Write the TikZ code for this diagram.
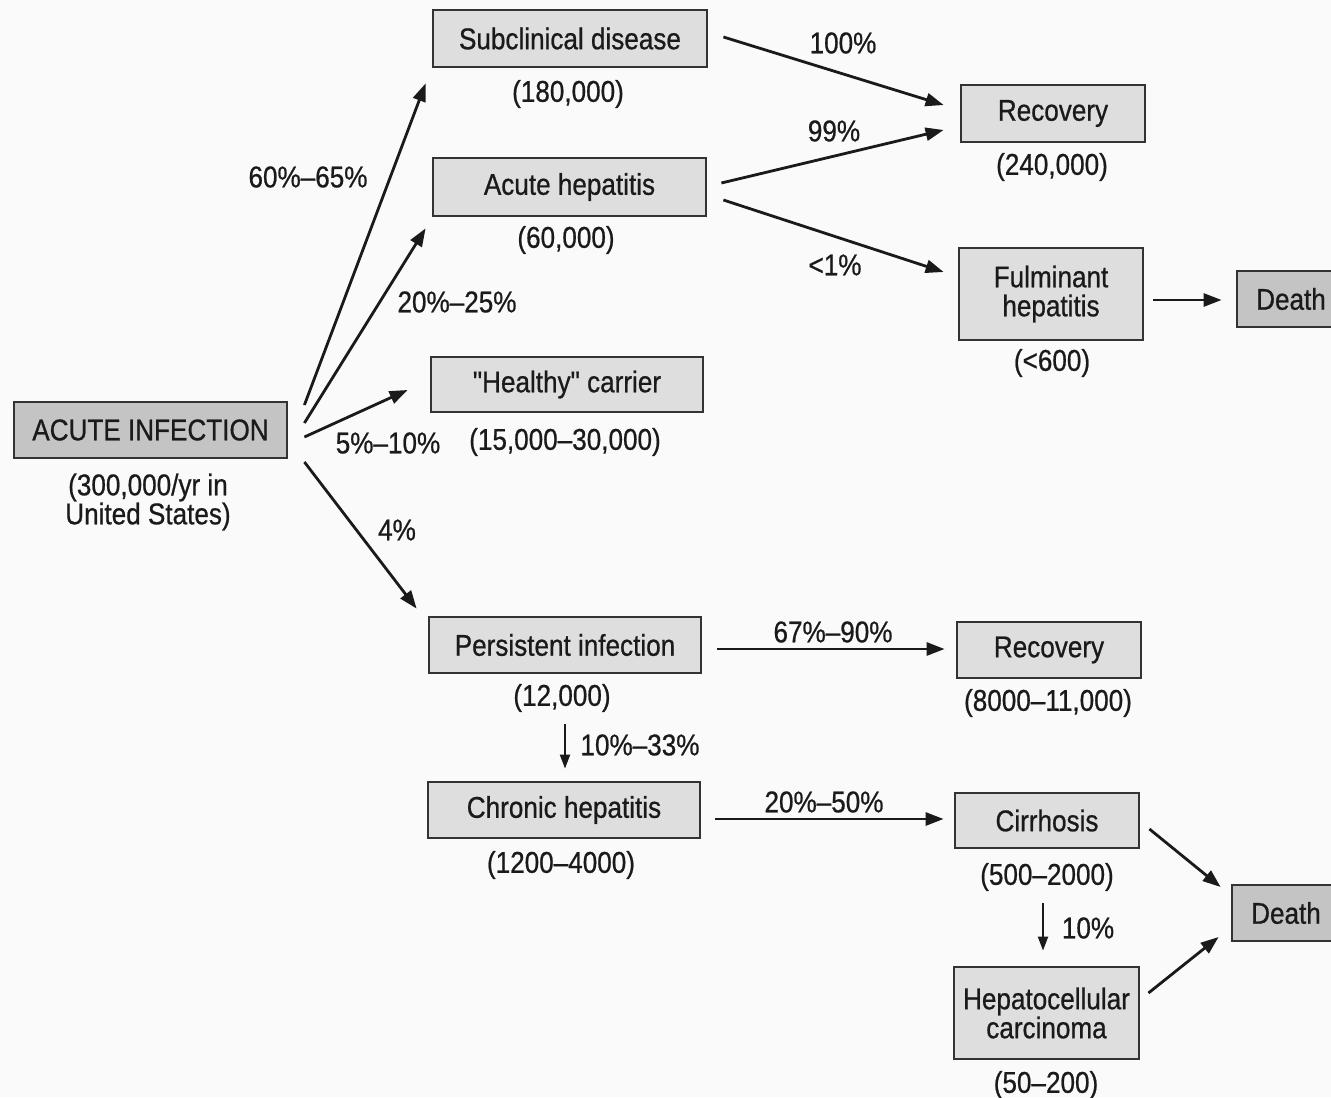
\documentclass[tikz,border=0pt]{standalone}
\usepackage{fontspec}
\setmainfont{Liberation Sans}[FakeStretch=0.87,FakeBold=0.7]
\newfontfamily\plainq{Liberation Sans}[FakeStretch=0.87,FakeBold=0.7]
\usetikzlibrary{arrows.meta}
\definecolor{boxfill}{HTML}{DEDEDE}
\definecolor{darkfill}{HTML}{C4C4C4}
\definecolor{edge}{HTML}{333333}
\definecolor{ink}{HTML}{1A1A1A}
\definecolor{paper}{HTML}{FAFAFA}
\tikzset{
 box/.style={draw=edge, line width=1.4pt, fill=boxfill, inner sep=0pt, align=center, text=ink},
 dbox/.style={box, fill=darkfill},
 lbl/.style={inner sep=0pt, text=ink, align=center},
 arr/.style={draw=ink, line width=1.4pt, -{Triangle[length=9pt,width=6.5pt]}},
 sarr/.style={draw=ink, line width=1pt, -{Triangle[length=7pt,width=5pt]}},
}
\begin{document}
\begin{tikzpicture}[x=0.5pt,y=-0.5pt, font=\fontsize{15}{14.5}\selectfont]
\path[use as bounding box] (0,0) rectangle (1331,1097);
\clip (0,0) rectangle (1331,1097);
\fill[paper] (0,0) rectangle (1331,1097);

% boxes
\node[dbox, minimum width=136.5pt, minimum height=28pt] (ai) at (150.5,430) {ACUTE INFECTION};
\node[box, minimum width=137pt, minimum height=28.5pt] (sub) at (570,38.5) {Subclinical disease};
\node[box, minimum width=136.5pt, minimum height=29pt] (ahep) at (569.5,187) {Acute hepatitis};
\node[box, minimum width=136pt, minimum height=27.5pt] (carr) at (567,384.5) {{\plainq"}Healthy{\plainq"} carrier};
\node[box, minimum width=136pt, minimum height=28pt] (pers) at (565,645) {Persistent infection};
\node[box, minimum width=136pt, minimum height=28pt] (chr) at (564,810) {Chronic hepatitis};
\node[box, minimum width=92pt, minimum height=28.5pt] (rec1) at (1053,113.5) {Recovery};
\node[box, minimum width=92pt, minimum height=46pt] (ful) at (1051,294) {Fulminant\\hepatitis};
\node[dbox, minimum width=54pt, minimum height=28pt] (d1) at (1291,299) {Death};
\node[box, minimum width=92pt, minimum height=28pt] (rec2) at (1049,650) {Recovery};
\node[box, minimum width=92pt, minimum height=27.5pt] (cir) at (1047,820.5) {Cirrhosis};
\node[dbox, minimum width=54pt, minimum height=28pt] (d2) at (1286,913) {Death};
\node[box, minimum width=92.5pt, minimum height=46pt] (hcc) at (1046.5,1013) {Hepatocellular\\carcinoma};

% counts
\node[lbl] (nai) at (148,502) {(300,000/yr in\\United States)};
\node[lbl] (nsub) at (568,94) {(180,000)};
\node[lbl] (nahep) at (566,240) {(60,000)};
\node[lbl] (ncarr) at (565,442) {(15,000–30,000)};
\node[lbl] (npers) at (562,698) {(12,000)};
\node[lbl] (nchr) at (561,865) {(1200–4000)};
\node[lbl] (nrec1) at (1052,167) {(240,000)};
\node[lbl] (nful) at (1052,363) {(<600)};
\node[lbl] (nrec2) at (1048,703) {(8000–11,000)};
\node[lbl] (ncir) at (1047,877) {(500–2000)};
\node[lbl] (nhcc) at (1046,1085) {(50–200)};

% percentages
\node[lbl] (p1) at (308,177) {60\%–65\%};
\node[lbl] (p2) at (457,302) {20\%–25\%};
\node[lbl] (p3) at (388,443) {5\%–10\%};
\node[lbl] (p4) at (397,530) {4\%};
\node[lbl] (p5) at (843,43) {100\%};
\node[lbl] (p6) at (834,131) {99\%};
\node[lbl] (p7) at (835,265) {<1\%};
\node[lbl] (p8) at (833,632) {67\%–90\%};
\node[lbl] (p9) at (640,745) {10\%–33\%};
\node[lbl] (p10) at (824,802) {20\%–50\%};
\node[lbl] (p11) at (1088,928) {10\%};

% connectors
\draw[arr] ([shift={(16,-25)}]ai.east) -- ([shift={(-6,15)}]sub.south west);
\draw[arr] ([shift={(16,-7)}]ai.east) -- ([shift={(-6,11)}]ahep.south west);
\draw[arr] ([shift={(16,7)}]ai.east) -- ([shift={(-22,5.5)}]carr.west);
\draw[arr] ([shift={(16,32)}]ai.east) -- ([shift={(-11,-7)}]pers.north west);
\draw[arr] ([shift={(15,-1.5)}]sub.east) -- ([shift={(-16,-8.5)}]rec1.west);
\draw[arr] ([shift={(14,-4)}]ahep.east) -- ([shift={(-16,16.5)}]rec1.west);
\draw[arr] ([shift={(16,13)}]ahep.east) -- ([shift={(-14,-22)}]ful.west);
\draw[arr] ([shift={(9,6)}]ful.east) -- ([shift={(-14,1)}]d1.west);
\draw[arr] ([shift={(15,4)}]pers.east) -- ([shift={(-11,-1)}]rec2.west);
\draw[sarr] ([shift={(0,50)}]pers.south) -- ([shift={(1,-12)}]chr.north);
\draw[arr] ([shift={(14,9)}]chr.east) -- ([shift={(-10,-1.5)}]cir.west);
\draw[arr] ([shift={(9,8.5)}]cir.east) -- ([shift={(-10,-26)}]d2.west);
\draw[sarr] ([shift={(-4,54)}]cir.south) -- ([shift={(-3.5,-15)}]hcc.north);
\draw[arr] ([shift={(8,-20)}]hcc.east) -- ([shift={(-12,24)}]d2.west);
\end{tikzpicture}
\end{document}
